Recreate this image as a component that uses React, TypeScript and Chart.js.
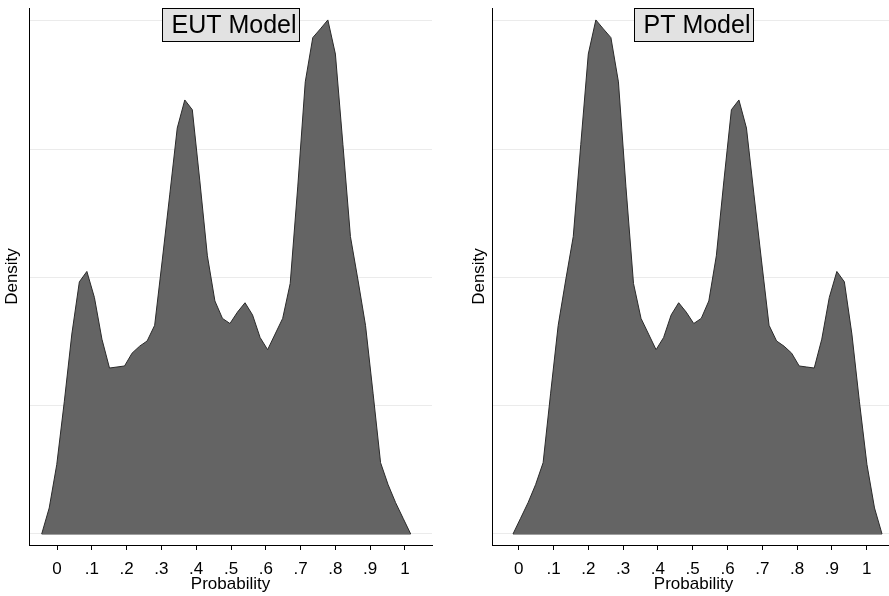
import React, { useEffect, useRef } from "react";
import { Chart, registerables } from "chart.js";

Chart.register(...registerables);

// ---- Data (kernel density estimates) ----
const eutX = [
  -0.044, -0.0224, -0.0007, 0.0209, 0.0426, 0.0642, 0.0858, 0.1075, 0.1291, 0.1508,
  0.1724, 0.194, 0.2157, 0.2373, 0.259, 0.2806, 0.3022, 0.3239, 0.3455, 0.3672,
  0.3888, 0.4104, 0.4321, 0.4537, 0.4754, 0.497, 0.5186, 0.5403, 0.5619, 0.5836,
  0.6052, 0.6268, 0.6485, 0.6701, 0.6918, 0.7134, 0.735, 0.7567, 0.7783, 0.8,
  0.8216, 0.8432, 0.8649, 0.8865, 0.9082, 0.9298, 0.9514, 0.9731, 0.9947, 1.0164,
];
const eutDensity = [
  0, 0.203, 0.542, 1.031, 1.559, 1.966, 2.047, 1.844, 1.519, 1.294,
  1.302, 1.31, 1.41, 1.464, 1.505, 1.627, 2.129, 2.644, 3.165, 3.384,
  3.308, 2.753, 2.169, 1.817, 1.681, 1.641, 1.73, 1.803, 1.708, 1.532,
  1.437, 1.559, 1.681, 1.953, 2.706, 3.525, 3.87, 3.938, 4.008, 3.742,
  3.037, 2.319, 1.98, 1.627, 1.098, 0.556, 0.385, 0.244, 0.122, 0,
];
const ptX = [
  -0.0164, 0.0053, 0.0269, 0.0486, 0.0702, 0.0918, 0.1135, 0.1351, 0.1568, 0.1784,
  0.2, 0.2217, 0.2433, 0.265, 0.2866, 0.3082, 0.3299, 0.3515, 0.3732, 0.3948,
  0.4164, 0.4381, 0.4597, 0.4814, 0.503, 0.5246, 0.5463, 0.5679, 0.5896, 0.6112,
  0.6328, 0.6545, 0.6761, 0.6978, 0.7194, 0.741, 0.7627, 0.7843, 0.806, 0.8276,
  0.8492, 0.8709, 0.8925, 0.9142, 0.9358, 0.9574, 0.9791, 1.0007, 1.0224, 1.044,
];
const ptDensity = [
  0, 0.122, 0.244, 0.385, 0.556, 1.098, 1.627, 1.98, 2.319, 3.037,
  3.742, 4.008, 3.938, 3.87, 3.525, 2.706, 1.953, 1.681, 1.559, 1.437,
  1.532, 1.708, 1.803, 1.73, 1.641, 1.681, 1.817, 2.169, 2.753, 3.308,
  3.384, 3.165, 2.644, 2.129, 1.627, 1.505, 1.464, 1.41, 1.31, 1.302,
  1.294, 1.519, 1.844, 2.047, 1.966, 1.559, 1.031, 0.542, 0.203, 0,
];
const xTickValues = [0, 0.1, 0.2, 0.3, 0.4, 0.5, 0.6, 0.7, 0.8, 0.9, 1];
const xTickLabels = ["0", ".1", ".2", ".3", ".4", ".5", ".6", ".7", ".8", ".9", "1"];
const yGridValues = [0, 1, 2, 3, 4];
const panelTitles = ["EUT Model", "PT Model"];
const xAxisTitle = "Probability";
const yAxisTitle = "Density";

const FONT = "'Liberation Sans', Arial, Helvetica, sans-serif";

type PanelProps = {
  xs: number[];
  ys: number[];
  title: string;
  xMin: number;
  xMax: number;
  left: number;
  yTitlePad: number;
};

function Panel({ xs, ys, title, xMin, xMax, left, yTitlePad }: PanelProps) {
  const ref = useRef<HTMLCanvasElement | null>(null);
  useEffect(() => {
    const canvas = ref.current;
    if (!canvas) return;
    const titleBox = {
      id: "titleBox",
      afterDraw(chart: any) {
        const { ctx, chartArea } = chart;
        ctx.save();
        ctx.font = `25px ${FONT}`;
        const tw = ctx.measureText(title).width;
        const bw = Math.round(tw + 12);
        const bh = 33;
        const cx = (chartArea.left + chartArea.right) / 2;
        const bx = Math.round(cx - bw / 2) + 0.5;
        const by = Math.round(chartArea.top) + 0.5;
        ctx.fillStyle = "#e2e2e2";
        ctx.fillRect(bx, by, bw, bh);
        ctx.strokeStyle = "#000";
        ctx.lineWidth = 1;
        ctx.strokeRect(bx, by, bw, bh);
        ctx.fillStyle = "#000";
        ctx.textAlign = "left";
        ctx.textBaseline = "alphabetic";
        ctx.fillText(title, bx + 9, by + 24);
        ctx.restore();
      },
    };
    const chart = new Chart(canvas, {
      type: "line",
      data: {
        datasets: [
          {
            data: xs.map((x, i) => ({ x, y: ys[i] })),
            fill: "origin",
            backgroundColor: "#646464",
            borderColor: "#2a2a2a",
            borderWidth: 1,
            pointRadius: 0,
            tension: 0,
          },
          {
            data: [
              { x: xs[0], y: 0 },
              { x: xs[xs.length - 1], y: 0 },
            ],
            fill: false,
            borderColor: "#3a3a3a",
            borderWidth: 1,
            pointRadius: 0,
          },
        ],
      },
      options: {
        animation: false,
        responsive: false,
        devicePixelRatio: 1,
        layout: { padding: { left: 0, top: 8, right: 13, bottom: 0 } },
        plugins: {
          legend: { display: false },
          tooltip: { enabled: false },
          title: { display: false },
        },
        scales: {
          x: {
            type: "linear",
            min: xMin,
            max: xMax,
            afterBuildTicks: (s: any) => {
              s.ticks = xTickValues.map((v) => ({ value: v }));
            },
            afterFit: (s: any) => {
              s.height = 51;
            },
            ticks: {
              callback: (_v: any, i: number) => xTickLabels[i],
              color: "#000",
              font: { family: FONT, size: 17 },
              padding: 9,
              maxRotation: 0,
              autoSkip: false,
            },
            grid: {
              display: true,
              drawOnChartArea: false,
              drawTicks: true,
              tickLength: 5,
              color: "#000",
            },
            border: { display: true, color: "#000", width: 1 },
            title: {
              display: true,
              text: xAxisTitle,
              color: "#000",
              font: { family: FONT, size: 17 },
              padding: { top: 0, bottom: 1 },
            },
          },
          y: {
            type: "linear",
            min: -0.0858,
            max: 4.101,
            afterBuildTicks: (s: any) => {
              s.ticks = yGridValues.map((v) => ({ value: v }));
            },
            afterFit: (s: any) => {
              s.width = 29;
            },
            ticks: { display: false },
            grid: { color: "#ebebeb", drawTicks: false, lineWidth: 1 },
            border: { display: true, color: "#000", width: 1 },
            title: {
              display: true,
              text: yAxisTitle,
              color: "#000",
              font: { family: FONT, size: 17 },
              padding: { top: yTitlePad, bottom: 0 },
            },
          },
        },
      },
      plugins: [titleBox],
    } as any);
    return () => chart.destroy();
  }, []);
  return (
    <canvas
      ref={ref}
      width={445}
      height={596}
      style={{ position: "absolute", left, top: 0, width: 445, height: 596 }}
    />
  );
}

export default function App() {
  return (
    <div
      style={{
        position: "absolute",
        left: 0,
        top: 0,
        width: 889,
        height: 596,
        overflow: "hidden",
        background: "#fff",
      }}
    >
      <Panel xs={eutX} ys={eutDensity} title={panelTitles[0]} xMin={-0.0805} xMax={1.0776} left={0} yTitlePad={2} />
      <Panel xs={ptX} ys={ptDensity} title={panelTitles[1]} xMin={-0.0767} xMax={1.0813} left={463} yTitlePad={6} />
    </div>
  );
}
